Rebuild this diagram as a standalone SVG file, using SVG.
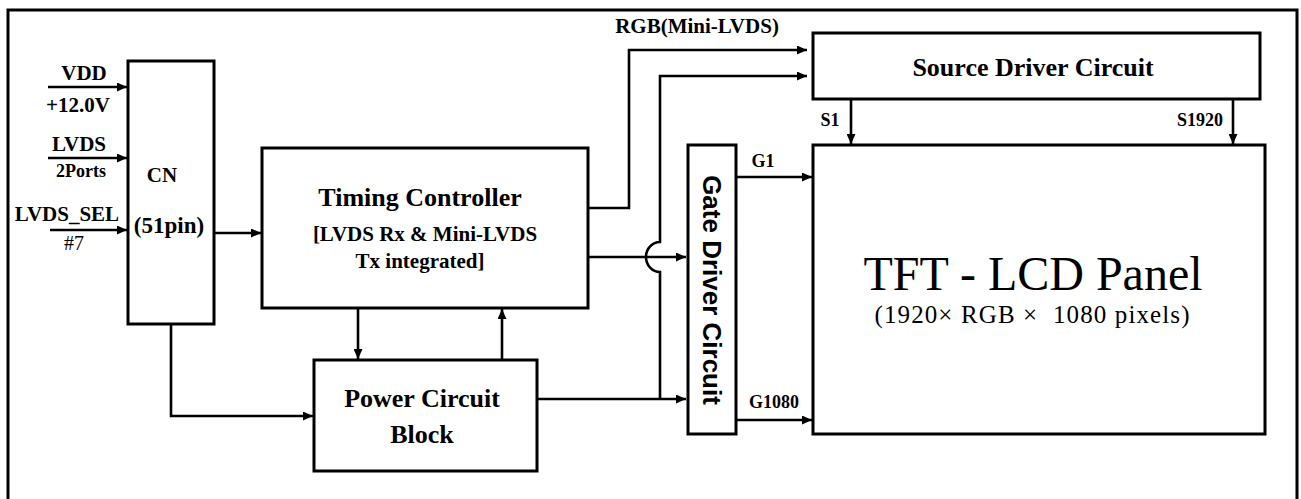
<svg xmlns="http://www.w3.org/2000/svg" width="1301" height="499" viewBox="0 0 1301 499">
<style>
.box{fill:#fff;stroke:#000;stroke-width:3}
.ln{fill:none;stroke:#000;stroke-width:2.6}
.b{font-family:"Liberation Serif","Times New Roman",serif;font-weight:bold;fill:#000;text-anchor:middle}
.r{font-family:"Liberation Serif","Times New Roman",serif;fill:#000;text-anchor:middle}
.s{font-family:"Liberation Sans",Arial,sans-serif;font-weight:bold;fill:#000;text-anchor:middle}
</style>
<defs>
<marker id="ah" markerUnits="userSpaceOnUse" markerWidth="11" markerHeight="9" refX="10" refY="4.5" orient="auto">
<path d="M0,0 L10,4.5 L0,9 z" fill="#000"/>
</marker>
</defs>
<rect width="1301" height="499" fill="#fff"/>
<path d="M8,505 V10 H1297 V505" fill="none" stroke="#000" stroke-width="3"/>

<g id="connectors">
<path class="ln" d="M48,87 H127" marker-end="url(#ah)"/>
<path class="ln" d="M48,158 H127" marker-end="url(#ah)"/>
<path class="ln" d="M50,230 H127" marker-end="url(#ah)"/>
<path class="ln" d="M214,233 H261" marker-end="url(#ah)"/>
<path class="ln" d="M171,324 V416 H313" marker-end="url(#ah)"/>
<path class="ln" d="M358,308 V359" marker-end="url(#ah)"/>
<path class="ln" d="M502,360 V309" marker-end="url(#ah)"/>
<path class="ln" d="M588,208 H629 V50 H807" marker-end="url(#ah)"/>
<path class="ln" d="M660,399 V272 A14,15 0 0 1 660,242 V76 H807" marker-end="url(#ah)"/>
<path class="ln" d="M588,257 H686" marker-end="url(#ah)"/>
<path class="ln" d="M537,399 H686" marker-end="url(#ah)"/>
<path class="ln" d="M736,177 H812" marker-end="url(#ah)"/>
<path class="ln" d="M736,420 H812" marker-end="url(#ah)"/>
<path class="ln" d="M851,99 V144" marker-end="url(#ah)"/>
<path class="ln" d="M1233,99 V144" marker-end="url(#ah)"/>
<text class="b" x="84" y="80" font-size="21">VDD</text>
<text class="b" x="78" y="112" font-size="21">+12.0V</text>
<text class="b" x="79" y="151" font-size="21">LVDS</text>
<text class="b" x="81" y="177" font-size="18">2Ports</text>
<text class="b" x="67" y="221" font-size="21">LVDS_SEL</text>
<text class="r" x="74" y="250" font-size="20">#7</text>
<text class="b" x="697" y="33" font-size="21">RGB(Mini-LVDS)</text>
<text class="b" x="830" y="126" font-size="18">S1</text>
<text class="b" x="1200" y="126" font-size="18">S1920</text>
<text class="b" x="763" y="167" font-size="18">G1</text>
<text class="b" x="774" y="408" font-size="18">G1080</text>
</g>

<g id="cn">
<rect class="box" x="128" y="61" width="86" height="263"/>
<text class="b" x="162" y="182" font-size="21">CN</text>
<text class="b" x="169" y="233" font-size="23">(51pin)</text>
</g>

<g id="timing-controller">
<rect class="box" x="262" y="148" width="326" height="160"/>
<text class="b" x="420" y="206" font-size="26">Timing Controller</text>
<text class="b" x="425" y="241" font-size="21">[LVDS Rx &amp; Mini-LVDS</text>
<text class="b" x="420" y="268" font-size="21">Tx integrated]</text>
</g>

<g id="power-circuit">
<rect class="box" x="314" y="360" width="223" height="111"/>
<text class="b" x="422" y="407" font-size="26">Power Circuit</text>
<text class="b" x="422" y="443" font-size="26">Block</text>
</g>

<g id="gate-driver">
<rect class="box" x="688" y="145" width="48" height="289"/>
<text class="s" font-size="26" transform="translate(703,290) rotate(90)">Gate Driver Circuit</text>
</g>

<g id="source-driver">
<rect class="box" x="813" y="33" width="447" height="66"/>
<text class="b" x="1033" y="76" font-size="26">Source Driver Circuit</text>
</g>

<g id="tft-panel">
<rect class="box" x="813" y="145" width="452" height="289"/>
<text class="r" x="1033" y="290" font-size="48">TFT - LCD Panel</text>
<text class="r" x="1032" y="323" font-size="25" textLength="315" xml:space="preserve">(1920× RGB ×  1080 pixels)</text>
</g>
</svg>
